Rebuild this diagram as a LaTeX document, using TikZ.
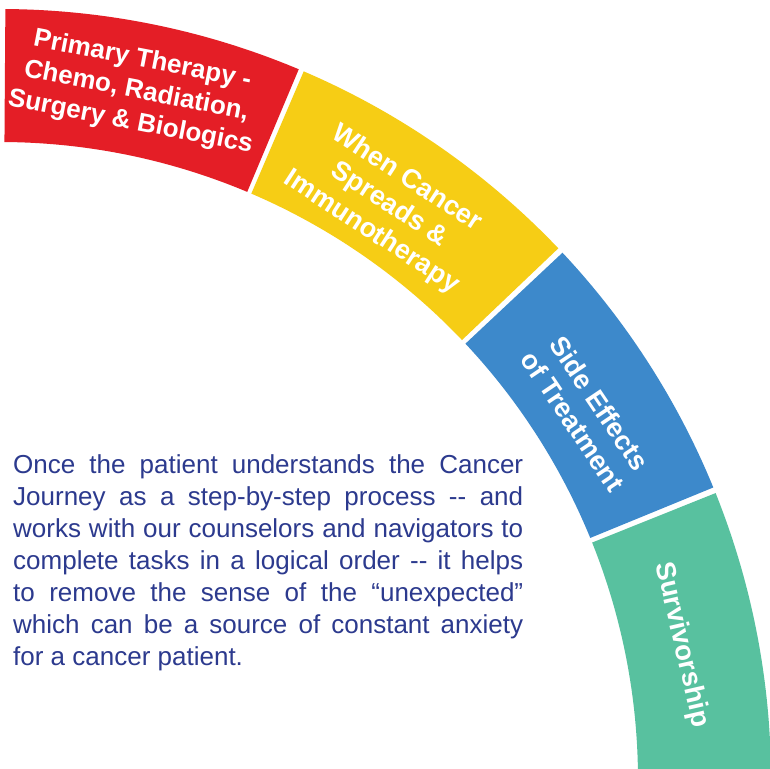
\documentclass[tikz,border=0pt]{standalone}
\usepackage{fontspec}
\setmainfont{Liberation Sans}
\definecolor{segred}{HTML}{E41E26}
\definecolor{segyellow}{HTML}{F6CD15}
\definecolor{segblue}{HTML}{3D89CB}
\definecolor{seggreen}{HTML}{58C19F}
\definecolor{parablue}{HTML}{2C3A8E}
\tikzset{
  segtext/.style={text=white, align=center, inner sep=0pt,
    font=\bfseries\fontsize{27}{32}\selectfont},
  paratext/.style={text=parablue, anchor=north west, inner sep=0pt,
    text width=510pt, align=justify, font=\fontsize{26}{32}\selectfont}
}
\newcommand{\ringseg}[3]{% color, start angle, end angle
  \fill[#1] (#2:638) arc[start angle=#2, end angle=#3, radius=638]
    -- (#3:771) arc[start angle=#3, end angle=#2, radius=771] -- cycle;}
\begin{document}
\begin{tikzpicture}[x=1pt,y=1pt]
\useasboundingbox (0,12) rectangle (770,780);
\clip (0,12) rectangle (770,780);
\fill[white] (0,12) rectangle (770,780);
\ringseg{segred}{67.2}{89.6}
\ringseg{segyellow}{43.6}{66.8}
\ringseg{segblue}{22.3}{43.15}
\ringseg{seggreen}{-2}{21.85}
\node[segtext, font=\bfseries\fontsize{26}{31.5}\selectfont, rotate=-11] (t1) at (78.8:702) {Primary Therapy -\\Chemo, Radiation,\\Surgery \& Biologics};
\node[segtext, rotate=-33] (t2) at (55.9:694) {When Cancer\\Spreads \&\\Immunotherapy};
\node[segtext, rotate=-56] (t3) at (32.1:692) {Side Effects\\of Treatment};
\node[segtext, font=\bfseries\fontsize{27.5}{32}\selectfont, rotate=-77] (t4) at (11.2:695) {Survivorship};
\node[paratext] (para) at (13,326) {Once the patient understands the Cancer\linebreak
Journey as a step-by-step process -{}- and\linebreak
works with our counselors and navigators to\linebreak
complete tasks in a logical order -{}- it helps\linebreak
to remove the sense of the “unexpected”\linebreak
which can be a source of constant anxiety\linebreak
for a cancer patient.};
\end{tikzpicture}
\end{document}
